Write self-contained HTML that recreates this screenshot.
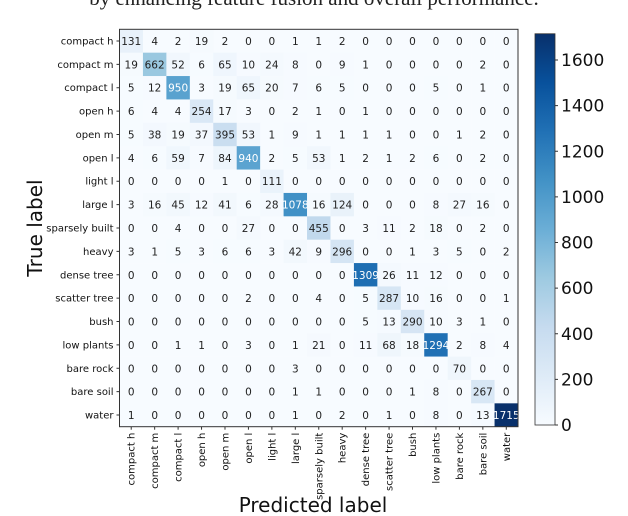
<!DOCTYPE html>
<html><head><meta charset="utf-8">
<style>
body{margin:0;width:628px;height:516px;background:#fff;overflow:hidden;position:relative;font-family:"DejaVu Sans","Liberation Sans",sans-serif;}
#cap{position:absolute;left:0;top:-14px;width:628px;text-align:center;font-family:"Liberation Serif",serif;font-size:21px;color:#222;white-space:nowrap;}
</style></head>
<body>
<div id="cap">by enhancing feature fusion and overall performance.</div>
<svg id="chart" width="628" height="516" style="position:absolute;left:0;top:0">
<defs><linearGradient id="cb" x1="0" y1="1" x2="0" y2="0">
<stop offset="0" stop-color="#f7fbff"/><stop offset="0.125" stop-color="#deebf7"/><stop offset="0.25" stop-color="#c6dbef"/><stop offset="0.375" stop-color="#9ecae1"/><stop offset="0.5" stop-color="#6baed6"/><stop offset="0.625" stop-color="#4292c6"/><stop offset="0.75" stop-color="#2171b5"/><stop offset="0.875" stop-color="#08519c"/><stop offset="1" stop-color="#08306b"/>
</linearGradient></defs>
</svg>
<script>
const labels=["compact h","compact m","compact l","open h","open m","open l","light l","large l","sparsely built","heavy","dense tree","scatter tree","bush","low plants","bare rock","bare soil","water"];
const r0=[131,4,2,19,2,0,0,1,1,2,0,0,0,0,0,0,0];
const r1=[19,662,52,6,65,10,24,8,0,9,1,0,0,0,0,2,0];
const r2=[5,12,950,3,19,65,20,7,6,5,0,0,0,5,0,1,0];
const r3=[6,4,4,254,17,3,0,2,1,0,1,0,0,0,0,0,0];
const r4=[5,38,19,37,395,53,1,9,1,1,1,1,0,0,1,2,0];
const r5=[4,6,59,7,84,940,2,5,53,1,2,1,2,6,0,2,0];
const r6=[0,0,0,0,1,0,111,0,0,0,0,0,0,0,0,0,0];
const r7=[3,16,45,12,41,6,28,1078,16,124,0,0,0,8,27,16,0];
const r8=[0,0,4,0,0,27,0,0,455,0,3,11,2,18,0,2,0];
const r9=[3,1,5,3,6,6,3,42,9,296,0,0,1,3,5,0,2];
const r10=[0,0,0,0,0,0,0,0,0,0,1309,26,11,12,0,0,0];
const r11=[0,0,0,0,0,2,0,0,4,0,5,287,10,16,0,0,1];
const r12=[0,0,0,0,0,0,0,0,0,0,5,13,290,10,3,1,0];
const r13=[0,0,1,1,0,3,0,1,21,0,11,68,18,1294,2,8,4];
const r14=[0,0,0,0,0,0,0,3,0,0,0,0,0,0,70,0,0];
const r15=[0,0,0,0,0,0,0,1,1,0,0,0,1,8,0,267,0];
const r16=[1,0,0,0,0,0,0,1,0,2,0,1,0,8,0,13,1715];
const matrix=[r0,r1,r2,r3,r4,r5,r6,r7,r8,r9,r10,r11,r12,r13,r14,r15,r16];
const cbTicks=[0,200,400,600,800,1000,1200,1400,1600];

const svg=document.getElementById('chart');
const NS='http://www.w3.org/2000/svg';
function mk(t,a){const e=document.createElementNS(NS,t);for(const k in a)e.setAttribute(k,a[k]);svg.appendChild(e);return e;}
const X0=119.5,Y0=29.3,X1=518,Y1=426.7,n=labels.length;
const cw=(X1-X0)/n,ch=(Y1-Y0)/n;
let vmax=0;matrix.forEach(r=>r.forEach(v=>{if(v>vmax)vmax=v;}));
const stops=["#f7fbff","#deebf7","#c6dbef","#9ecae1","#6baed6","#4292c6","#2171b5","#08519c","#08306b"].map(h=>[1,3,5].map(i=>parseInt(h.substr(i,2),16)));
function color(v){let t=Math.max(0,Math.min(1,v/vmax))*(stops.length-1);const i=Math.min(Math.floor(t),stops.length-2),f=t-i;const c=stops[i].map((a,k)=>Math.round(a+(stops[i+1][k]-a)*f));return `rgb(${c[0]},${c[1]},${c[2]})`;}
const xs=j=>X0+j*cw, ys=i=>Y0+i*ch;
matrix.forEach((row,i)=>row.forEach((v,j)=>{
 const r=mk('rect',{x:xs(j),y:ys(i),width:cw+0.3,height:ch+0.3,fill:color(v)});
 
 
 const t=mk('text',{x:xs(j)+cw/2,y:ys(i)+ch/2+4,'text-anchor':'middle','font-size':'10.5',fill:v>vmax/2?'#fff':'#222'});
 t.textContent=v;
 
 
}));
const fr=mk('rect',{x:X0,y:Y0,width:X1-X0,height:Y1-Y0,fill:'none',stroke:'#333','stroke-width':1});


labels.forEach((l,i)=>{
 mk('line',{x1:X0-3,x2:X0,y1:ys(i)+ch/2,y2:ys(i)+ch/2,stroke:'#333'});
 const t=mk('text',{x:X0-6,y:ys(i)+ch/2+3.5,'text-anchor':'end','font-size':'10',fill:'#111'});
 t.textContent=l;
 
 
 mk('line',{x1:xs(i)+cw/2,x2:xs(i)+cw/2,y1:Y1,y2:Y1+3,stroke:'#333'});
 const u=mk('text',{x:0,y:0,'text-anchor':'end','font-size':'10',fill:'#111',transform:`translate(${xs(i)+cw/2+3.5},${Y1+6}) rotate(-90)`});
 u.textContent=l;
 
 
});
const yt=mk('text',{x:0,y:0,'text-anchor':'middle','font-size':'20',fill:'#111',transform:'translate(42,228) rotate(-90)'});
yt.textContent='True label';


const xt=mk('text',{x:313,y:512,'text-anchor':'middle','font-size':'20',fill:'#111'});
xt.textContent='Predicted label';


// colorbar
const CX=535,CW=20,CT=32.7,CB=425,CTICKMAX=1600,C1600=60;
const cs=v=>CB-(v/CTICKMAX)*(CB-C1600);
const cbTop=cs(vmax);
const cb=mk('rect',{x:CX,y:cbTop,width:CW,height:CB-cbTop,fill:'url(#cb)',stroke:'#333','stroke-width':0.8});


cbTicks.forEach(v=>{
 mk('line',{x1:CX+CW,x2:CX+CW+3,y1:cs(v),y2:cs(v),stroke:'#333'});
 const t=mk('text',{x:CX+CW+6,y:cs(v)+6,'font-size':'17',fill:'#111'});
 t.textContent=v;
 
 
});
</script>
</body></html>
